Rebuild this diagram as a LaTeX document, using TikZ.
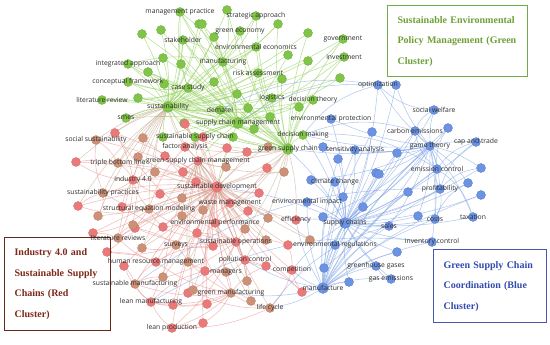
\documentclass[tikz,border=0pt]{standalone}
\usepackage{fontspec}
\setmainfont{Liberation Serif}
\newfontfamily\lblfont{Open Sans}
\usetikzlibrary{backgrounds}
\pgfdeclarelayer{edges}
\pgfdeclarelayer{labels}
\pgfsetlayers{edges,main,labels}
\definecolor{gfill}{RGB}{128,196,72}
\definecolor{gdraw}{RGB}{105,170,55}
\definecolor{rfill}{RGB}{234,122,122}
\definecolor{rdraw}{RGB}{210,105,105}
\definecolor{tfill}{RGB}{205,145,120}
\definecolor{tdraw}{RGB}{180,125,105}
\definecolor{bfill}{RGB}{108,146,226}
\definecolor{bdraw}{RGB}{85,120,205}
\definecolor{gline}{RGB}{150,210,95}
\definecolor{rline}{RGB}{236,145,145}
\definecolor{tline}{RGB}{200,170,145}
\definecolor{bline}{RGB}{130,165,230}
\definecolor{lblc}{RGB}{45,45,45}
\definecolor{gbord}{RGB}{112,173,71}
\definecolor{gtext}{RGB}{110,160,55}
\definecolor{rbord}{RGB}{100,40,25}
\definecolor{rtext}{RGB}{125,40,25}
\definecolor{bbord}{RGB}{70,90,178}
\definecolor{btext}{RGB}{50,75,175}
\newcommand\kw[4]{\node[#2] (#1) at (#3) {};\begin{pgfonlayer}{labels}\node[lbl] at (#1) {#4};\end{pgfonlayer}}
\begin{document}
\begin{tikzpicture}[x=1pt,y=-1pt,
  nd/.style={circle,inner sep=0pt,minimum size=9pt,line width=0.3pt},
  gn/.style={nd,fill=gfill,draw=gdraw},
  rn/.style={nd,fill=rfill,draw=rdraw},
  tn/.style={nd,fill=tfill,draw=tdraw},
  bn/.style={nd,fill=bfill,draw=bdraw},
  big/.style={minimum size=11pt},
  lbl/.style={font=\lblfont\fontsize{6.8}{7}\selectfont,text=lblc,inner sep=0pt},
  gedge/.style={draw=gline,opacity=0.65,line width=0.55pt},
  redge/.style={draw=rline,opacity=0.6,line width=0.55pt},
  tedge/.style={draw=tline,opacity=0.6,line width=0.55pt},
  bedge/.style={draw=bline,opacity=0.6,line width=0.55pt},
  cbox/.style={draw,line width=1.2pt,align=left,inner xsep=10pt,anchor=north west,font=\bfseries\fontsize{10}{20.5}\selectfont}
]
\begin{pgfonlayer}{edges}
\fill[white] (0,0) rectangle (550,345);
\end{pgfonlayer}
\useasboundingbox (0,0) rectangle (550,345);
% green cluster
\kw{mp}{gn}{180,12}{management practice}
\kw{sa}{gn}{256,16}{strategic approach}
\kw{ge}{gn}{240,31}{green economy}
\kw{sh}{gn}{183,40}{stakeholder}
\kw{ee}{gn}{256,47}{environmental economics}
\kw{gov}{gn}{343,39}{government}
\kw{inv}{gn}{344,57}{investment}
\kw{mf}{gn}{223,62}{manufacturing}
\kw{ia}{gn}{128,64}{integrated approach}
\kw{cf}{gn}{128,82}{conceptual framework}
\kw{cs}{gn}{188,88}{case study}
\kw{ra}{gn}{258,73}{risk assessment}
\kw{lr}{gn}{102,100}{literature review}
\kw{sus}{gn,big}{168,107}{sustainability}
\kw{smes}{gn}{126,118}{smes}
\kw{log}{gn}{272,98}{logistics}
\kw{dt}{gn}{313,100}{decision theory}
\kw{dem}{gn}{220,110}{dematel}
\kw{scm}{gn,big}{238,123}{supply chain management}
\kw{dm}{gn}{303,135}{decision making}
\kw{ssc}{gn}{195,137}{sustainable supply chain}
\kw{gsc}{gn,big}{288,149}{green supply chain}
\foreach \x/\y [count=\i] in {161/30,142/34,199/24,163/58,181/64,148/72,164/84,138/98,227/10,202/24,278/24,214/37,308/33,288/55,308/61,340/78,282/79,214/82,237/94,248/108,299/107,270/117,184/123,163/137,233/137,254/129}
  \node[gn] (g\i) at (\x,\y) {};
% red cluster
\kw{fa}{rn}{185,147}{factor analysis}
\kw{gscm}{rn}{198,161}{green supply chain management}
\kw{tbl}{tn}{118,163}{triple bottom line}
\kw{ss}{tn}{96,140}{social sustainability}
\kw{i40}{rn}{133,180}{industry 4.0}
\kw{sp}{tn}{103,193}{sustainability practices}
\kw{sem}{tn}{149,209}{structural equation modeling}
\kw{sd}{rn,big}{217,187}{sustainable development}
\kw{wm}{rn}{230,203}{waste management}
\kw{ep}{rn}{215,223}{environmental performance}
\kw{eff}{rn}{296,220}{efficiency}
\kw{lrs}{tn}{118,238}{literature reviews}
\kw{sur}{tn}{176,245}{surveys}
\kw{sop}{rn}{236,242}{sustainable operations}
\kw{hrm}{rn}{156,262}{human resource management}
\kw{pc}{rn}{245,260}{pollution control}
\kw{man}{tn}{226,272}{managers}
\kw{comp}{rn}{292,270}{competition}
\kw{smf}{tn}{135,284}{sustainable manufacturing}
\kw{gm}{tn}{231,293}{green manufacturing}
\kw{lm}{rn}{151,302}{lean manufacturing}
\kw{lc}{tn}{270,308}{life cycle}
\kw{lp}{rn}{172,328}{lean production}
\foreach \x/\y [count=\i] in {115/133,185/124,203/137,227/148,165/156,183/172,76/162,160/194,78/206,122/207,163/227,196/182,247/152,267/168,259/193,248/211,197/233,213/246,288/245,266/266,205/271,188/293,207/304,302/292,203/323,93/233,107/252,124/266,173/305,135/228}
  \node[rn] (r\i) at (\x,\y) {};
\foreach \x/\y [count=\i] in {143/138,138/157,155/172,226/167,182/198,98/216,133/225,182/216,203/210,268/147,284/172,268/218,245/229,266/240,310/240,247/281,251/301,142/248,188/262,163/277,193/290}
  \node[tn] (t\i) at (\x,\y) {};
% blue cluster
\kw{opt}{bn}{378,85}{optimization}
\kw{epr}{bn}{331,119}{environmental protection}
\kw{sa2}{bn}{355,150}{sensitivity analysis}
\kw{sw}{bn}{434,110}{social welfare}
\kw{ce}{bn}{415,131}{carbon emissions}
\kw{gt}{bn}{430,146}{game theory}
\kw{cat}{bn}{476,142}{cap and trade}
\kw{ec}{bn}{437,169}{emission control}
\kw{prof}{bn}{440,189}{profitability}
\kw{costs}{bn}{435,219}{costs}
\kw{tax}{bn}{473,217}{taxation}
\kw{sales}{bn}{389,226}{sales}
\kw{cc}{bn}{335,182}{climate change}
\kw{ei}{bn}{307,202}{environmental impact}
\kw{sch}{bn,big}{345,223}{supply chains}
\kw{er}{bn}{335,245}{environmental regulations}
\kw{ic}{bn}{432,242}{inventory control}
\kw{gg}{bn}{376,266}{greenhouse gases}
\kw{gem}{bn}{391,279}{gas emissions}
\kw{mfe}{bn,big}{323,288}{manufacture}
\foreach \x/\y [count=\i] in {396/85,372/132,323/147,338/159,311/180,363/207,323/217,343/197,376/173,448/128,397/153,379/174,481/168,408/192,468/183,481/195,418/216,397/252,324/268,349/282}
  \node[bn] (b\i) at (\x,\y) {};
% edges
\begin{pgfonlayer}{edges}
\foreach \a in {mp,sa,ge,sh,ee,gov,inv,mf,ia,cf,cs,ra,lr,smes,log,dt,dem,scm,dm,ssc}
  \draw[gedge] (\a) to[bend left=8] (sus);
\foreach \a in {mp,sa,ge,sh,ee,gov,inv,mf,cs,ra,log,dt,dem,scm,dm,ssc,sus}
  \draw[gedge] (\a) to[bend right=10] (gsc);
\foreach \a in {mp,sh,mf,ia,cf,cs,dem,ra,log,lr,smes,ssc,gov,inv,dt}
  \draw[gedge] (\a) to[bend left=6] (scm);
\foreach \a in {mp,sa,ge,sh,ee,ra,cs,ia,g9,g10,g11,g12}
  \draw[gedge] (\a) to[bend left=12] (mf);
\foreach \a in {ia,cf,lr,smes,g6,g7,g8,sh,mp}
  \draw[gedge] (\a) to[bend right=12] (cs);
\foreach \i in {1,...,26}
  \draw[gedge] (g\i) to[bend left=8] (sus);
\foreach \i in {1,3,...,25}
  \draw[gedge] (g\i) to[bend right=8] (gsc);
\foreach \i in {2,4,...,26}
  \draw[gedge] (g\i) to[bend left=8] (scm);
\foreach \a in {fa,gscm,tbl,ss,i40,sp,sem,wm,ep,eff,lrs,sur,sop,hrm,pc,man,comp,smf,gm,lm,lc,lp,ssc}
  \draw[redge] (\a) to[bend left=8] (sd);
\foreach \i in {1,...,30}
  \draw[redge] (r\i) to[bend left=7] (sd);
\foreach \i in {1,...,21}
  \draw[tedge] (t\i) to[bend right=7] (sd);
\foreach \a/\b in {r1/i40,r5/i40,r7/tbl,r9/sp,r10/i40,r11/sem,r17/sop,r18/sop,r19/comp,r20/pc,r21/man,r22/gm,r23/lm,r24/comp,r25/lp,r26/lrs,r27/hrm,r28/smf,r29/lm,r30/sur,r2/gscm,r3/fa,r4/gscm,r6/gscm,r8/i40,r12/gscm,r13/ssc,r14/wm,r15/wm,r16/ep}
  \draw[redge] (\a) to[bend left=10] (\b);
\foreach \a/\b in {r1/sop,r5/wm,r7/i40,r9/sem,r10/sop,r11/wm,r17/gm,r18/hrm,r19/sop,r20/gm,r21/lm,r22/sop,r23/gm,r24/pc,r25/gm,r26/sem,r27/sur,r28/lm,r29/gm,r30/sop,t16/sop,t17/gm,t18/sur,t19/man,t20/smf,t21/lc,t6/sp,t7/lrs}
  \draw[redge] (\a) to[bend right=14] (\b);
\foreach \a/\b in {smf/lm,lm/lp,gm/lc,hrm/sur,lrs/sem,sp/sem,tbl/ss,i40/sem,i40/tbl,sop/pc,man/pc,gm/man,sur/sop,ep/sop,wm/ep,lp/gm,lp/sop,smf/gm,hrm/smf,lrs/hrm,sp/i40,lm/gm,lc/comp,sem/sop,i40/gscm,fa/sem,hrm/gm,lp/lc,smf/sop,sur/gm,lrs/i40,ss/sp}
  \draw[redge] (\a) to[bend right=12] (\b);
\foreach \a in {tbl,ss,sp,i40,smes,fa,gscm,t1,t2,t3,sem,lrs,t6,t7,r7,r9,r1}
  \draw[tedge] (\a) to[bend left=10] (sus);
\foreach \a in {t4,t5,t8,t9,t10,t11,t12,t13,t14,t15,t16,t17,t18,t19,t20,t21,wm,ep}
  \draw[tedge] (\a) to[bend left=9] (gscm);
\foreach \a in {sd,gscm,fa,wm,ep,t10,t11,r13,r14,eff,sop,pc}
  \draw[tedge] (\a) to[bend right=8] (gsc);
\foreach \a in {sd,fa,ssc,gscm,r2,r3}
  \draw[gedge] (\a) to[bend left=6] (scm);
\foreach \a in {opt,epr,sa2,sw,ce,gt,cat,ec,prof,costs,tax,sales,cc,ei,er,ic,gg,gem,mfe,gsc,dm,sd,eff,comp}
  \draw[bedge] (\a) to[bend left=8] (sch);
\foreach \a in {sw,ce,cat,ec,prof,costs,tax,sales,sa2,opt,ic,dm,gsc,epr}
  \draw[bedge] (\a) to[bend right=8] (gt);
\foreach \a in {er,cc,ei,gg,gem,sa2,ce,gt,ec,prof,sales,ic,costs,comp,gm,lc,pc,eff}
  \draw[bedge] (\a) to[bend right=10] (mfe);
\foreach \i in {1,...,20}
  \draw[bedge] (b\i) to[bend left=8] (sch);
\foreach \i in {1,3,...,19}
  \draw[bedge] (b\i) to[bend right=10] (gt);
\foreach \i in {2,4,...,20}
  \draw[bedge] (b\i) to[bend right=10] (mfe);
\foreach \a/\b in {opt/dem,opt/scm,opt/dm,sales/lc,ic/lm,prof/smf,ec/dm,ce/dm,tax/ec,cat/ec,sw/ce,costs/prof,gg/gem,opt/sw,ec/prof,cat/prof,ce/ec,b10/ec,b13/prof,b15/costs}
  \draw[bedge] (\a) to[bend right=18] (\b);
\end{pgfonlayer}
% cluster boxes
\node[cbox,draw=gbord,text=gtext,text width=120pt,minimum width=140pt,minimum height=71pt] (gbox) at (387,5)
  {Sustainable Environmental\\Policy Management (Green\\Cluster)};
\node[cbox,draw=rbord,text=rtext,text width=86pt,minimum width=106pt,minimum height=93pt] (rbox) at (4,237)
  {Industry 4.0 and\\Sustainable Supply\\Chains (Red\\Cluster)};
\node[cbox,draw=bbord,text=btext,text width=93pt,minimum width=113pt,minimum height=73pt] (bbox) at (433,249)
  {Green Supply Chain\\Coordination (Blue\\Cluster)};
\end{tikzpicture}
\end{document}
